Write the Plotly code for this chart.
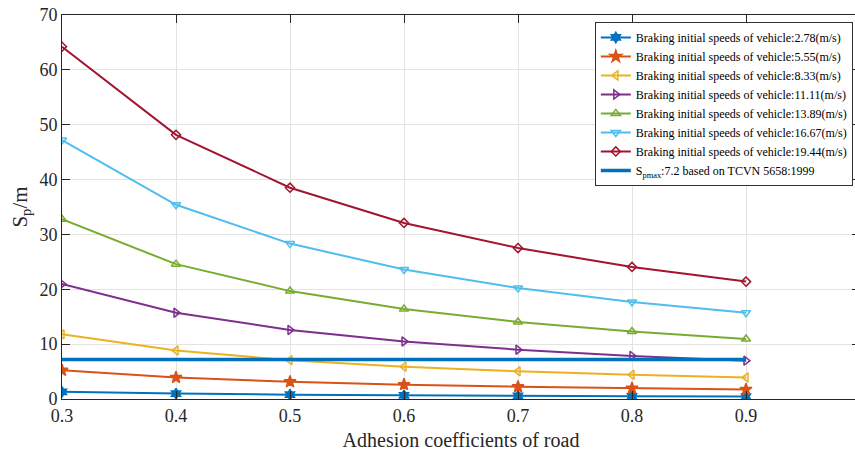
import plotly.graph_objects as go

adhesion = [0.3, 0.4, 0.5, 0.6, 0.7, 0.8, 0.9]
speed_labels = ["2.78", "5.55", "8.33", "11.11", "13.89", "16.67", "19.44"]

s_278 = [1.31, 0.98, 0.79, 0.66, 0.56, 0.49, 0.44]
s_555 = [5.23, 3.92, 3.14, 2.62, 2.24, 1.96, 1.74]
s_833 = [11.79, 8.84, 7.07, 5.89, 5.05, 4.42, 3.93]
s_1111 = [20.97, 15.73, 12.58, 10.49, 8.99, 7.86, 6.99]
s_1389 = [32.78, 24.58, 19.67, 16.39, 14.05, 12.29, 10.93]
s_1667 = [47.21, 35.41, 28.33, 23.61, 20.23, 17.70, 15.74]
s_1944 = [64.21, 48.15, 38.52, 32.10, 27.52, 24.08, 21.40]
series = [s_278, s_555, s_833, s_1111, s_1389, s_1667, s_1944]

spmax = 7.2
spmax_x = [0.3, 0.9]

x_ticks = [0.3, 0.4, 0.5, 0.6, 0.7, 0.8, 0.9, 1.0]
x_ticklabels = ["0.3", "0.4", "0.5", "0.6", "0.7", "0.8", "0.9", "1"]
y_ticks = [0, 10, 20, 30, 40, 50, 60, 70]

colors = ["#0072BD", "#D95319", "#EDB120", "#7E2F8E", "#77AC30", "#4DBEEE", "#A2142F"]
symbols = ["hexagram", "star", "triangle-left-open", "triangle-right-open",
           "triangle-up-open", "triangle-down-open", "diamond-open"]
sizes = [8, 9, 8, 8, 8, 8, 7]

FONT = "Liberation Serif"

fig = go.Figure()
for lab, ys, c, sym, sz in zip(speed_labels, series, colors, symbols, sizes):
    fig.add_trace(go.Scatter(
        x=adhesion, y=ys, mode="lines+markers",
        name=f"Braking initial speeds of vehicle:{lab}(m/s)",
        line=dict(color=c, width=2),
        marker=dict(symbol=sym, size=sz, color=c, line=dict(color=c, width=1.5)),
    ))

fig.add_trace(go.Scatter(
    x=spmax_x, y=[spmax, spmax], mode="lines",
    name="S<sub>pmax</sub>:7.2 based on TCVN 5658:1999",
    line=dict(color="#0072BD", width=3.5),
))

fig.update_layout(
    width=862, height=451,
    margin=dict(l=62, r=2, t=15, b=52),
    paper_bgcolor="white", plot_bgcolor="white",
    font=dict(family=FONT, color="#262626"),
    legend=dict(
        x=0.991, xanchor="right", y=0.982, yanchor="top",
        bgcolor="white", bordercolor="#333333", borderwidth=1,
        font=dict(family=FONT, size=12, color="#000000"),
        itemwidth=30, tracegroupgap=0,
    ),
    showlegend=True,
)

fig.update_xaxes(
    range=[0.3, 1.0], tickvals=x_ticks, ticktext=x_ticklabels,
    showgrid=True, gridcolor="#e3e3e3", gridwidth=1,
    showline=True, linecolor="#262626", linewidth=1, mirror="ticks",
    ticks="inside", ticklen=8, tickcolor="#262626",
    tickfont=dict(family=FONT, size=18, color="#262626"),
    title=dict(text="Adhesion coefficients of road", font=dict(family=FONT, size=20, color="#262626"), standoff=8),
    zeroline=False,
)
fig.update_yaxes(
    range=[0, 70], tickvals=y_ticks,
    showgrid=True, gridcolor="#e3e3e3", gridwidth=1,
    showline=True, linecolor="#262626", linewidth=1, mirror="ticks",
    ticks="inside", ticklen=8, tickcolor="#262626",
    tickfont=dict(family=FONT, size=18, color="#262626"),
    title=dict(text="S<sub>p</sub>/m", font=dict(family=FONT, size=21, color="#262626"), standoff=6),
    zeroline=False,
)

fig.write_html("out.html", config={"displayModeBar": False},
               post_script="document.body.style.margin='0';")
